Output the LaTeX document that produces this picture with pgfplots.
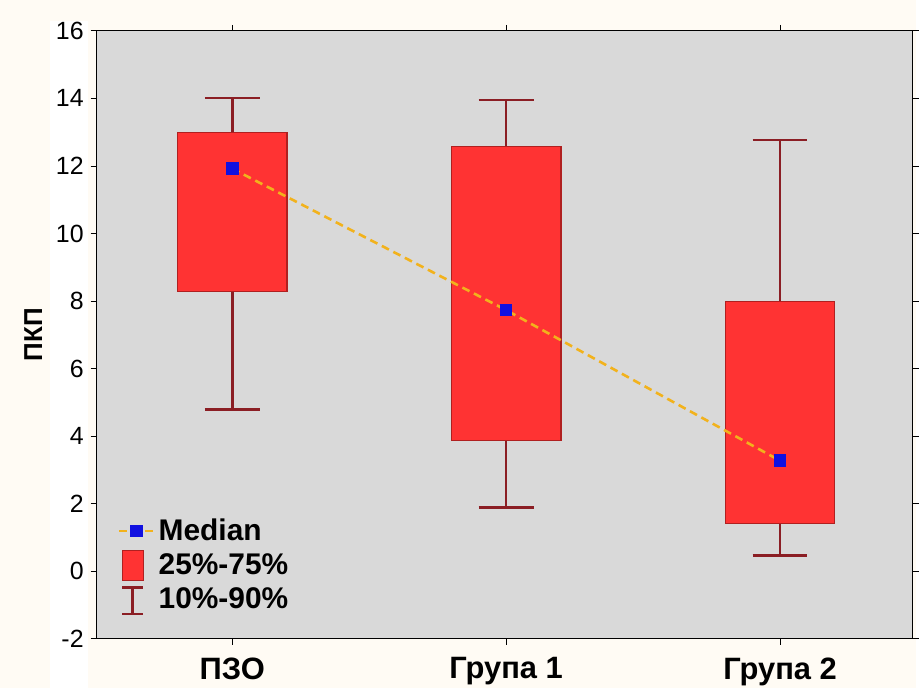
\documentclass[border=0pt]{standalone}
\usepackage{pgfplots}
\pgfplotsset{compat=1.18}
\usepgfplotslibrary{statistics}
\usepackage{fontspec}
\setmainfont{Liberation Sans}
\definecolor{bgcream}{HTML}{FFFBF4}
\definecolor{plotgray}{HTML}{D9D9D9}
\definecolor{boxred}{HTML}{FF3333}
\definecolor{boxedge}{HTML}{B02020}
\definecolor{whisk}{HTML}{8B1E24}
\definecolor{medline}{HTML}{F2B21C}
\definecolor{medblue}{HTML}{1010E0}
\begin{document}
\begin{tikzpicture}
\path[fill=bgcream] (0,0) rectangle (459.5pt,345.5pt);
\path[fill=white] (25pt,0) rectangle (44pt,335pt);
\begin{axis}[
  at={(48.5pt,25pt)}, anchor=south west,
  scale only axis, width=409.5pt, height=305pt,
  axis background/.style={fill=plotgray},
  xmin=-0.495, xmax=2.484, ymin=-2, ymax=16,
  xtick={0,1,2}, xticklabels={ПЗО,Група 1,Група 2},
  ytick={-2,0,...,16},
  /pgf/number format/assume math mode=true,
  yticklabel style={font=\fontsize{12.5}{14}\selectfont},
  xticklabel style={font=\fontsize{15.5}{18}\selectfont\bfseries, yshift=-3pt},
  ylabel={\textbf{ПКП}}, ylabel style={font=\fontsize{13}{15}\selectfont, yshift=0pt},
  tick style={black, thin}, major tick length=3pt,
  tick align=outside,
  axis line style={black, line width=0.6pt},
  legend cell align=left,
  legend style={draw=none, fill=none, at={(axis cs:-0.44,-1.45)}, anchor=south west,
    font=\fontsize{15}{17}\selectfont\bfseries, row sep=1.2pt,
    /tikz/every even column/.append style={column sep=2pt}},
  boxplot/draw direction=y,
  boxplot/every box/.style={fill=boxred, draw=boxedge, line width=0.6pt},
  boxplot/every whisker/.style={draw=whisk, line width=1.3pt},
  boxplot/every median/.style={draw=none},
]
\addplot+[forget plot, mark=none, boxplot prepared={draw position=0, lower whisker=4.78, lower quartile=8.29, median=11.92, upper quartile=12.98, upper whisker=14.01, box extend=0.4, whisker extend=0.2}] coordinates {};
\addplot+[forget plot, mark=none, boxplot prepared={draw position=1, lower whisker=1.89, lower quartile=3.86, median=7.73, upper quartile=12.57, upper whisker=13.95, box extend=0.4, whisker extend=0.2}] coordinates {};
\addplot+[forget plot, mark=none, boxplot prepared={draw position=2, lower whisker=0.47, lower quartile=1.42, median=3.27, upper quartile=7.99, upper whisker=12.77, box extend=0.4, whisker extend=0.2}] coordinates {};
\addplot[medline, dash pattern=on 4pt off 2.5pt, line width=1.3pt, mark=square*, mark size=2.5pt,
  mark options={solid, fill=medblue, draw=medblue}] coordinates {(0,11.92) (1,7.73) (2,3.27)};
\addlegendentry{Median}
\addlegendimage{legend image code/.code={\draw[fill=boxred, draw=boxedge, line width=0.6pt] (0.05cm,-0.26cm) rectangle (0.42cm,0.26cm);}}
\addlegendentry{25\%-75\%}
\addlegendimage{legend image code/.code={\draw[whisk, line width=1.3pt] (0.05cm,0.22cm) -- (0.42cm,0.22cm) (0.235cm,0.22cm) -- (0.235cm,-0.25cm) (0.05cm,-0.25cm) -- (0.42cm,-0.25cm);}}
\addlegendentry{10\%-90\%}
\end{axis}
\end{tikzpicture}
\end{document}
